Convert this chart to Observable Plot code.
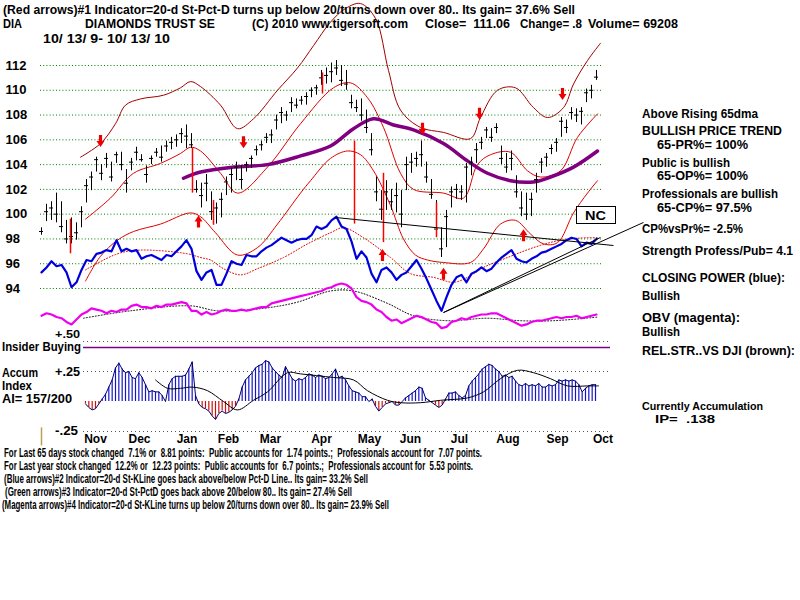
<!DOCTYPE html>
<html><head><meta charset="utf-8">
<script src="https://cdn.jsdelivr.net/npm/d3@7"></script>
<script src="https://cdn.jsdelivr.net/npm/@observablehq/plot@0.6"></script>
<style>
html,body{margin:0;padding:0;background:#fff;}
#chart{position:relative;width:800px;height:600px;overflow:hidden;background:#fff;}
#chart svg{position:absolute;left:0;top:0;}
</style></head><body><div id="chart"></div>
<script>
// ---------- DATA (x in bar slots, y in price units) ----------
const priceTicks = [94,96,98,100,102,104,106,108,110,112];
const monthLabels = ["Nov","Dec","Jan","Feb","Mar","Apr","May","Jun","Jul","Aug","Sep","Oct"];
const monthPos = [10.8,19.6,29.1,37.4,45.8,56,65.6,73.8,83.6,93.3,103.2,112.3];

const barHi = [98.9,100.8,101.0,101.7,101.0,99.5,99.7,99.3,100.6,102.8,
103.4,104.6,104.0,104.9,104.2,105.0,105.0,103.6,104.5,105.4,
104.8,103.9,104.7,105.3,105.5,105.9,106.2,106.4,106.9,107.2,
106.5,102.7,102.5,103.2,101.8,100.9,101.7,103.0,103.7,104.2,
103.9,104.2,104.7,105.5,105.9,106.5,106.8,108.0,108.6,108.3,
109.4,109.3,109.5,109.8,110.2,110.4,111.6,111.8,112.2,112.4,
112.0,111.6,109.6,109.2,109.3,108.4,106.5,103.0,101.9,102.7,
102.0,102.5,101.9,104.6,104.9,105.0,105.9,104.2,102.8,101.1,
98.9,100.3,102.2,102.4,102.3,104.1,104.6,105.7,106.2,107.0,
106.9,107.3,105.5,104.9,105.1,103.1,101.8,101.7,101.7,103.3,
104.5,104.9,105.6,106.1,107.8,107.6,108.6,108.5,108.6,110.1,
110.4,111.6];
const barLo = [98.3,99.4,99.5,99.3,98.5,97.6,97.6,97.9,98.9,100.9,
101.9,103.4,102.7,103.7,102.6,104.1,103.5,101.7,103.5,104.3,
104.2,102.5,104.0,104.6,104.2,105.0,105.2,105.4,105.7,105.3,
105.3,101.7,100.5,101.0,99.5,99.2,99.7,101.5,101.7,102.7,
102.0,103.4,103.7,104.7,105.1,105.7,105.7,106.8,107.3,107.5,
108.2,108.5,108.8,108.8,109.4,109.6,110.4,110.5,110.6,111.2,
110.3,110.0,108.5,108.2,107.5,106.5,104.7,101.0,99.5,100.3,
100.3,100.1,98.9,101.9,103.3,103.8,103.8,102.5,101.2,98.4,
96.5,97.3,100.5,101.2,101.1,100.9,103.1,104.1,105.2,106.1,
105.8,106.5,104.0,103.3,103.5,101.3,99.8,99.5,99.8,101.7,
103.3,103.8,104.8,105.0,106.2,106.5,107.6,107.4,107.2,109.0,
109.3,110.8];
const barClose = [98.6,100.2,100.5,100.0,99.0,98.0,98.2,98.5,100.2,102.3,
103.0,104.4,103.3,104.5,103.0,104.8,104.0,102.5,104.2,105.0,
104.4,103.2,104.5,105.0,104.6,105.5,105.8,106.0,106.5,106.3,
105.6,102.0,101.5,102.5,100.2,100.5,101.2,102.6,103.2,103.8,
102.8,104.0,104.5,105.2,105.6,106.2,106.4,107.6,108.2,108.0,
109.0,108.8,109.2,109.5,110.0,110.2,111.0,111.2,111.5,111.8,
110.8,110.5,109.0,108.6,108.0,107.0,105.2,101.8,100.4,101.8,
101.0,101.5,100.0,104.0,104.2,104.5,104.8,103.0,101.6,98.8,
97.2,99.8,101.8,102.0,101.8,103.8,104.2,105.2,105.8,106.8,
106.2,107.0,104.5,103.8,104.5,101.8,100.5,100.0,101.2,102.8,
104.2,104.6,105.3,105.8,107.5,107.0,108.2,108.0,108.3,109.8,
110.0,111.06];

const redBarX  = [5.8,30.2,34.4,56.2,62.6,68.4,79];
const redBarHi = [99.6,105.3,101.1,111.4,105.9,103.3,100.9];
const redBarLo = [96.8,101.7,99.1,109.7,99.2,97.7,98.1];

const upperBand = [[7.8,104.6],[11.8,105.7],[14.8,107.3],[16.8,108.8],[19.8,109.3],[24.4,109.6],[27.8,110.2],[29.8,110.7],[31.8,110.3],[35.8,108.8],[39.2,106.9],[42.4,107.7],[47.2,110.0],[51.2,111.8],[54.4,113.6],[57.8,115.5],[60.8,116.6],[63.8,117.0],[66.8,115.8],[69.4,111.6],[71.8,108.4],[75.8,107.0],[80.4,106.6],[85.8,106.1],[87.8,107.8],[91.2,110.0],[94.8,110.2],[98.4,108.6],[101.2,107.8],[104.4,108.6],[106.4,110.5],[109.2,112.4],[111.8,113.8]];
const midBand = [[8.8,99.6],[13.8,101.3],[18.4,103.3],[23.8,104.1],[27.8,104.9],[29.8,105.4],[31.8,105.1],[35.8,103.3],[39.2,101.7],[45.2,103.8],[51.8,107.3],[58.4,110.2],[61.8,110.6],[65.2,109.4],[68.4,107.0],[71.8,103.3],[74.4,102.0],[80.4,101.7],[84.4,101.3],[87.2,104.0],[89.8,104.8],[93.8,105.0],[97.2,103.5],[99.8,103.0],[103.8,103.5],[107.2,106.2],[111.2,108.1]];
const lowerBand = [[8.8,94.6],[11.8,96.6],[15.2,97.9],[18.4,98.6],[23.8,99.2],[29.8,100.1],[31.8,99.8],[34.8,98.5],[39.2,96.7],[43.2,97.3],[47.2,99.2],[51.8,101.7],[53.8,102.7],[57.8,104.5],[61.2,105.1],[63.8,104.8],[66.4,103.5],[69.8,100.7],[72.4,98.0],[74.8,96.7],[77.2,96.3],[80.4,96.1],[85.8,96.1],[88.4,97.2],[91.8,99.2],[94.8,99.5],[97.8,98.4],[100.4,97.6],[103.2,97.7],[106.4,100.1],[109.2,101.7],[111.2,102.7]];
const ma65 = [[28.4,102.9],[31.8,103.4],[38.4,103.8],[45.2,104.0],[51.8,104.7],[57.8,105.5],[62.4,106.9],[66.4,107.7],[70.4,107.2],[74.4,106.8],[80.4,105.7],[85.2,104.3],[89.2,103.3],[93.8,102.7],[98.4,102.6],[101.8,103.0],[106.4,103.8],[111.2,105.1]];

const closingPower = [95.3,95.7,96.2,95.8,95.9,95.3,94.1,94.5,95.5,96.3,
96.2,96.8,96.9,97.1,97.0,97.9,97.0,97.2,97.0,97.1,
96.4,96.6,96.7,96.5,96.3,96.7,96.6,97.0,97.4,97.9,
97.2,95.4,94.7,95.3,95.5,94.3,94.3,95.2,96.2,96.0,
95.9,96.7,96.6,96.6,97.0,97.3,97.5,97.8,98.1,97.9,
97.7,97.9,98.0,98.0,98.3,99.0,98.8,99.0,99.5,99.8,
99.0,98.8,97.8,96.4,97.0,96.5,95.2,94.5,95.5,95.7,
95.3,94.7,95.1,95.3,95.8,96.3,95.6,94.8,93.9,93.0,
92.2,93.3,94.3,94.9,95.1,94.5,95.2,95.4,95.7,95.4,
95.6,96.1,96.5,96.8,97.1,96.4,96.2,96.1,96.4,96.6,
96.9,97.0,97.2,97.4,97.6,97.9,98.1,98.0,97.4,97.7,
97.6,98.0];
const cpAverage = [[8.8,95.5],[15.2,96.8],[19.8,97.1],[29.2,96.8],[31.8,96.5],[33.8,96.3],[36.4,95.6],[39.8,95.1],[43.2,95.6],[48.4,96.5],[53.2,97.6],[57.8,98.5],[60.4,98.9],[64.4,98.1],[69.8,96.5],[73.8,95.2],[78.4,94.9],[82.4,94.5],[85.2,94.9],[88.4,95.7],[93.2,96.5],[98.4,97.3],[103.8,97.9],[109.2,98.1],[111.4,98.1]];

const obv = [91.8,92.0,91.9,91.7,91.6,91.3,91.1,91.5,91.9,92.1,
92.4,92.3,92.2,92.0,92.2,92.1,92.3,92.3,92.6,92.7,
92.5,92.5,92.4,92.6,92.5,92.7,92.7,92.8,92.9,92.8,
92.2,92.2,91.9,92.1,91.9,92.0,92.2,92.3,92.2,92.2,
92.3,92.2,92.3,92.4,92.5,92.5,92.8,92.9,93.0,93.1,
93.2,93.3,93.4,93.5,93.6,93.7,93.8,94.0,94.1,94.3,
94.4,94.3,94.0,93.3,93.0,92.9,92.7,92.3,92.1,91.7,
91.4,91.5,91.2,91.4,91.6,91.8,91.7,91.5,91.3,91.2,
90.8,90.9,91.3,91.4,91.6,91.5,91.7,91.8,91.9,91.9,
92.0,92.0,91.8,91.6,91.4,91.2,91.0,91.1,91.3,91.4,
91.4,91.5,91.6,91.7,91.6,91.7,91.7,91.8,91.6,91.7,
91.8,91.9];
const obvAverage = [[8.4,91.6],[17.8,92.2],[29.8,92.6],[35.2,92.2],[44.4,92.4],[51.2,92.9],[57.8,93.8],[62.4,93.8],[69.2,92.8],[74.4,91.8],[81.2,91.4],[89.2,91.6],[95.8,91.4],[102.4,91.4],[111.4,91.7]];

const trendLines = [[58.8,99.73,114.4,97.47],[80.4,92.06,120.4,99.33],[80.4,92.06,111.8,98.12]];
const sellArrows = [[11.8,105.9],[40.4,105.8],[76.2,106.9],[87.6,108.1],[104.2,109.7]];
const buyArrows  = [[31.4,99.4],[68.2,96.7],[80.4,95.2],[96.4,98.3]];

// Accumulation index (one value every 2/3 slot starting at slot 8.8)
const accumStart = 8.8, accumStep = 2/3;
const accumValues = [-0.02,-0.05,-0.07,-0.06,-0.02,0.02,0.06,0.12,0.18,0.28,
0.32,0.27,0.24,0.25,0.20,0.19,0.24,0.20,0.14,0.08,
0.09,0.08,0.08,0.05,0.00,0.14,0.19,0.21,0.21,0.21,
0.22,0.27,0.33,0.05,-0.02,-0.05,-0.06,-0.08,-0.12,-0.15,
-0.10,-0.08,-0.10,-0.09,-0.07,-0.04,0.02,0.12,0.18,0.21,
0.24,0.28,0.30,0.31,0.34,0.33,0.28,0.25,0.22,0.20,
0.29,0.24,0.19,0.17,0.19,0.18,0.20,0.23,0.22,0.20,
0.22,0.21,0.19,0.20,0.23,0.27,0.20,0.21,0.18,0.13,
0.09,0.08,0.07,0.04,0.04,0.00,0.02,-0.04,-0.08,-0.05,
-0.02,-0.01,0.00,-0.03,-0.03,0.00,0.03,0.05,0.07,0.09,
0.12,0.11,0.03,0.01,-0.01,-0.03,-0.05,-0.03,0.02,0.07,
0.07,0.08,0.05,0.03,0.05,0.13,0.17,0.20,0.23,0.27,
0.29,0.31,0.30,0.27,0.25,0.21,0.22,0.20,0.21,0.17,
0.14,0.13,0.15,0.13,0.14,0.13,0.15,0.12,0.12,0.14,
0.13,0.14,0.18,0.17,0.18,0.17,0.18,0.17,0.14,0.08,
0.11,0.13,0.14,0.14];
const accumAverage = [[22.8,0.18],[25.2,0.11],[27.8,0.11],[30.2,0.12],[33.2,0.09],[36.4,0.0],[39.2,-0.07],[42.4,0.01],[45.2,0.08],[49.2,0.24],[51.8,0.23],[58.4,0.20],[62.4,0.18],[65.2,0.09],[69.2,0.01],[71.8,-0.01],[75.8,-0.01],[79.8,0.01],[85.2,0.03],[88.4,0.08],[91.8,0.19],[95.2,0.26],[98.4,0.24],[101.8,0.19],[105.2,0.13],[109.2,0.13],[111.4,0.13]];
const accumTicks = [0.5,0.25,-0.25];
const insiderLevel = 0.45;
const relStrBar = [[0,-0.22,-0.37]];

const headerTexts = ["(Red arrows)#1 Indicator=20-d St-Pct-D turns up below 20/turns down over 80.. Its gain= 37.6% Sell",
 "DIA","DIAMONDS TRUST SE","(C) 2010 www.tigersoft.com","Close=  111.06","Change= .8","Volume= 69208","10/ 13/ 9- 10/ 13/ 10"];
const panelTexts = ["Above Rising 65dma","BULLISH PRICE TREND","65-PR%= 100%","Public is bullish","65-OP%= 100%",
 "Professionals are bullish","65-CP%= 97.5%","CP%vsPr%= -2.5%","Strength Profess/Pub= 4.1","CLOSING POWER (blue):",
 "Bullish","OBV (magenta):","Bullish","REL.STR..VS DJI (brown):","Currently Accumulation","IP=  .138"];
const accumLabels = ["+.50","Insider Buying","Accum","+.25","Index","AI= 157/200","-.25"];
const footerTexts = ["For Last 65 days stock changed  7.1% or  8.81 points:  Public accounts for  1.74 points.;  Professionals account for  7.07 points.",
 "For Last year stock changed  12.2% or  12.23 points:  Public accounts for  6.7 points.;  Professionals account for  5.53 points.",
 "(Blue arrows)#2 Indicator=20-d St-KLine goes back above/below Pct-D Line.. Its gain= 33.2% Sell",
 "(Green arrows)#3 Indicator=20-d St-PctD goes back above 20/below 80.. Its gain= 27.4% Sell",
 "(Magenta arrows)#4 Indicator=20-d St-KLine turns up below 20/turns down over 80.. Its gain= 23.9% Sell"];
const noteText = "NC";

// ---------- BUILD ----------
const bars = barHi.map((h,i)=>({i, hi:h, lo:barLo[i], c:barClose[i]}));
const redBars = redBarX.map((x,i)=>({x, hi:redBarHi[i], lo:redBarLo[i]}));
const cp = closingPower.map((v,i)=>({i,v}));
const ob = obv.map((v,i)=>({i,v}));
const accum = accumValues.map((v,k)=>({x: accumStart + k*accumStep, v}));

const downArrow = {draw(c){c.moveTo(-1.6,-6);c.lineTo(1.6,-6);c.lineTo(1.6,0);c.lineTo(4,0);c.lineTo(0,6);c.lineTo(-4,0);c.lineTo(-1.6,0);c.closePath();}};
const upArrow = {draw(c){c.moveTo(-1.6,6);c.lineTo(1.6,6);c.lineTo(1.6,0);c.lineTo(4,0);c.lineTo(0,-6);c.lineTo(-4,0);c.lineTo(-1.6,0);c.closePath();}};

const FONT = "'Liberation Sans', Arial, sans-serif";
const xScale = {domain:[0,112.3], range:[41,602.5]};
const fx = d=>d[0], fy = d=>d[1];

const plotA = Plot.plot({
  width:800, height:600, marginLeft:40, marginRight:199, marginTop:0, marginBottom:0,
  x:{...xScale, axis:null},
  y:{domain:[94,112], range:[288,65], axis:null},
  style:{background:"transparent", fontFamily:FONT, overflow:"visible"},
  marks:[
    Plot.ruleY(priceTicks, {stroke:"#008000", strokeDasharray:"1,2.2", strokeWidth:1}),
    Plot.axisY({ticks:priceTicks, tickSize:0, tickPadding:0, textAnchor:"start", dx:-35, fontSize:13, fontWeight:"bold", fill:"black", label:null}),
    Plot.line(upperBand, {x:fx, y:fy, stroke:"#a00000", strokeWidth:1, curve:"catmull-rom"}),
    Plot.line(midBand, {x:fx, y:fy, stroke:"#e00000", strokeWidth:1, curve:"catmull-rom"}),
    Plot.line(lowerBand, {x:fx, y:fy, stroke:"#e00000", strokeWidth:1, curve:"catmull-rom"}),
    Plot.line(ma65, {x:fx, y:fy, stroke:"#800080", strokeWidth:3.5, curve:"catmull-rom"}),
    Plot.ruleX(bars, {x:"i", y1:"lo", y2:"hi", stroke:"black", strokeWidth:1}),
    Plot.ruleY(bars, {y:"c", x1:d=>d.i-0.4, x2:d=>d.i+0.4, stroke:"black", strokeWidth:1}),
    Plot.ruleX(redBars, {x:"x", y1:"lo", y2:"hi", stroke:"#ff0000", strokeWidth:1.5}),
    Plot.line(cpAverage, {x:fx, y:fy, stroke:"#e00000", strokeDasharray:"1,2", strokeWidth:1, curve:"catmull-rom"}),
    Plot.line(cp, {x:"i", y:"v", stroke:"#0000dd", strokeWidth:2.2}),
    Plot.line(obvAverage, {x:fx, y:fy, stroke:"black", strokeDasharray:"1,2", strokeWidth:1, curve:"catmull-rom"}),
    Plot.line(ob, {x:"i", y:"v", stroke:"#ee00ee", strokeWidth:2.2}),
    Plot.link(trendLines, {x1:d=>d[0], y1:d=>d[1], x2:d=>d[2], y2:d=>d[3], stroke:"black", strokeWidth:1}),
    Plot.dot(sellArrows, {x:fx, y:fy, symbol:downArrow, fill:"#ee0000", stroke:"none"}),
    Plot.dot(buyArrows, {x:fx, y:fy, symbol:upArrow, fill:"#ee0000", stroke:"none"})
  ]
});

const plotB = Plot.plot({
  width:800, height:600, marginLeft:83, marginRight:190, marginTop:0, marginBottom:168,
  x:{...xScale},
  y:{domain:[-0.25,0.5], range:[431,341], axis:null},
  style:{background:"transparent", fontFamily:FONT, overflow:"visible"},
  marks:[
    Plot.ruleY(accumTicks, {stroke:"#555", strokeDasharray:"1,3", strokeWidth:1}),
    Plot.ruleY([insiderLevel], {stroke:"#800080", strokeWidth:1.5}),
    Plot.ruleX(accum, {x:"x", y1:0, y2:"v", stroke:d=>d.v>=0?"#1515c8":"#cc1010", strokeWidth:1.2}),
    Plot.line(accum, {x:"x", y:"v", stroke:"#000070", strokeWidth:1}),
    Plot.line(accumAverage, {x:fx, y:fy, stroke:"black", strokeWidth:1, curve:"catmull-rom"}),
    Plot.ruleX(relStrBar, {x:d=>d[0], y1:d=>d[1], y2:d=>d[2], stroke:"#b8a050", strokeWidth:1.5}),
    Plot.axisX({ticks:monthPos, tickFormat:d=>monthLabels[monthPos.indexOf(d)], tickSize:0, tickPadding:2, anchor:"bottom", fontSize:12, fontWeight:"bold", fill:"black", label:null})
  ]
});

const root = document.getElementById("chart");
root.appendChild(plotA);
root.appendChild(plotB);

// ---------- TEXT OVERLAY ----------
const svg = d3.select(root).append("svg").attr("width",800).attr("height",600)
  .style("font-family",FONT).style("pointer-events","none");
function put(t, x, y, w, size, weight, family){
  svg.append("text").attr("x",x).attr("y",y).attr("textLength",w).attr("lengthAdjust","spacingAndGlyphs")
    .style("white-space","pre").attr("xml:space","preserve")
    .attr("font-size",size).attr("font-weight",weight||"bold").attr("font-family",family||FONT).attr("fill","black").text(t);
}
const hdr = [[3,14,572],[3,28,19],[85,28,130],[252,28,156],[425,28,85],[520,28,62],[588,28,90],[43,43,127]];
headerTexts.forEach((t,i)=>put(t, hdr[i][0], hdr[i][1], hdr[i][2], 12));
const pnl = [[642,118,116],[642,135,140],[657,149,91],[642,167,88],[657,180,91],[642,198,136],[657,212,95],[642,233,101],[642,255,151],[642,282,143],[642,300,38],[642,322,98],[642,336,38],[642,355,153]];
pnl.forEach((p,i)=>put(panelTexts[i], p[0], p[1], p[2], 12));
put(panelTexts[14], 642, 410, 121, 11);
put(panelTexts[15], 655, 423, 60, 11);
const acl = [[55,338,25,11],[2,351,79,12],[2,377,36,12],[55,376,25,12],[2,390,30,12],[2,403,70,12],[55,435,23,12]];
accumLabels.forEach((t,i)=>put(t, acl[i][0], acl[i][1], acl[i][2], acl[i][3]));
const ftr = [[4,457,478],[4,470,469],[4,483,364],[5,496,347],[2,509,387]];
footerTexts.forEach((t,i)=>put(t, ftr[i][0], ftr[i][1], ftr[i][2], 12.5, "bold", FONT));
// NC note box
svg.append("rect").attr("x",576.5).attr("y",206.5).attr("width",39).attr("height",17).attr("fill","white").attr("stroke","black");
put(noteText, 585, 220, 21, 13);
</script></body></html>
